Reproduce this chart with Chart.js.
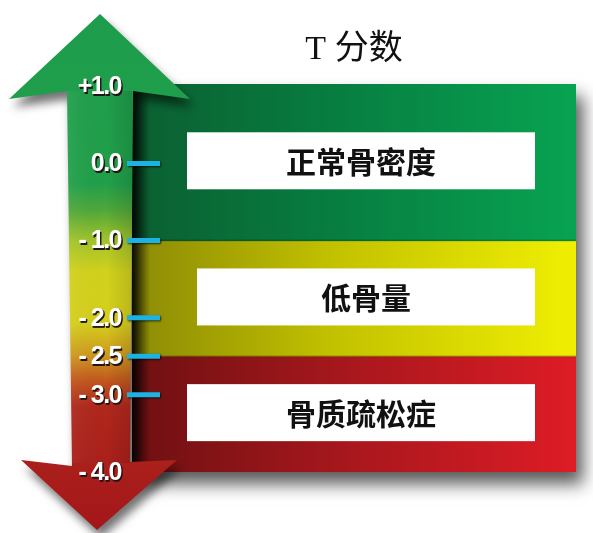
<!DOCTYPE html>
<html>
<head>
<meta charset="utf-8">
<script src="https://cdn.jsdelivr.net/npm/chart.js@4.4.1/dist/chart.umd.min.js"></script>
<style>
  html, body { margin: 0; padding: 0; background: #fff; }
  #wrap { width: 593px; height: 533px; }
</style>
</head>
<body>
<div id="wrap"><canvas id="c" width="593" height="533"></canvas></div>
<script>
const title = "T 分数";
const bandNames = ["正常骨密度", "低骨量", "骨质疏松症"];
const bandTop = [1.03, -1.0, -2.5];
const bandBottom = [-1.0, -2.5, -4.0];
const tickValues = [1.0, 0.0, -1.0, -2.0, -2.5, -3.0, -4.0];
const tickLabels = ["+1.0", "0.0", "- 1.0", "- 2.0", "- 2.5", "- 3.0", "- 4.0"];
const markValues = [0.0, -1.0, -2.0, -2.5, -3.0];

// left (shaded) -> right (bright) colours per band
const bandDark = ["#0b5f31", "#8c8a06", "#6e1012"];
const bandLight = ["#08a352", "#f0ef02", "#de1c26"];

function bandFill(i) {
  return ctx => {
    const area = ctx.chart.chartArea;
    if (!area) return bandLight[i];
    const g = ctx.chart.ctx.createLinearGradient(area.left, 0, area.right, 0);
    g.addColorStop(0, bandDark[i]);
    g.addColorStop(0.45, i === 1 ? "#c2c100" : i === 0 ? "#077d40" : "#a3171c");
    g.addColorStop(1, bandLight[i]);
    return g;
  };
}

const decor = {
  id: "decor",
  beforeDatasetsDraw(chart) {
    const { ctx, chartArea: a } = chart;
    ctx.save();
    ctx.shadowColor = "rgba(0,0,0,0.65)";
    ctx.shadowBlur = 16;
    ctx.shadowOffsetX = 7;
    ctx.shadowOffsetY = 12;
    ctx.fillStyle = "#555";
    ctx.fillRect(a.left, a.top, a.right - a.left, a.bottom - a.top);
    ctx.restore();
  },
  afterDatasetsDraw(chart) {
    const { ctx, chartArea: a } = chart;
    const y = chart.scales.y;

    // band separator lines
    ctx.save();
    ctx.strokeStyle = "rgba(0,0,0,0.18)";
    ctx.lineWidth = 2;
    [-1.0, -2.5].forEach(v => {
      const py = y.getPixelForValue(v);
      ctx.beginPath(); ctx.moveTo(a.left, py); ctx.lineTo(a.right, py); ctx.stroke();
    });
    ctx.restore();

    // shadow of arrow shaft on the panel
    const sg = ctx.createLinearGradient(a.left, 0, a.left + 18, 0);
    sg.addColorStop(0, "rgba(0,0,0,0.85)");
    sg.addColorStop(1, "rgba(0,0,0,0)");
    ctx.fillStyle = sg;
    ctx.fillRect(a.left, a.top, 18, a.bottom - a.top);

    // white boxes with band names
    bandNames.forEach((name, i) => {
      const t = y.getPixelForValue(bandTop[i]);
      const b = y.getPixelForValue(bandBottom[i]);
      const mid = (t + b) / 2 - 2;
      const x0 = a.left + (i === 1 ? 65 : 55);
      const x1 = a.left + 403;
      ctx.fillStyle = "#fff";
      ctx.fillRect(x0, mid - 28, x1 - x0, 57);
      ctx.fillStyle = "#111";
      ctx.font = "bold 30px 'Noto Sans CJK SC'";
      ctx.textAlign = "center";
      ctx.textBaseline = "middle";
      ctx.fillText(name, (x0 + x1) / 2, mid + 1);
    });

    // the double arrow
    const R = a.left, L = a.left - 65;
    const pts = [
      [100, 14], [190, 99], [R + 1, 91], [R - 2, 462], [177, 460], [97, 530],
      [21, 460], [L + 5, 466], [L, 91], [9, 99]
    ];
    ctx.save();
    ctx.shadowColor = "rgba(0,0,0,0.55)";
    ctx.shadowBlur = 10;
    ctx.shadowOffsetX = 4;
    ctx.shadowOffsetY = 8;
    const vg = ctx.createLinearGradient(0, 14, 0, 530);
    vg.addColorStop(0.0, "#1d9d4c");
    vg.addColorStop(0.33, "#21a04a");
    vg.addColorStop(0.38, "#4fa83a");
    vg.addColorStop(0.44, "#a4c42a");
    vg.addColorStop(0.50, "#d2d21c");
    vg.addColorStop(0.60, "#d6cf1c");
    vg.addColorStop(0.66, "#cf9a1e");
    vg.addColorStop(0.71, "#c2581e");
    vg.addColorStop(0.76, "#b0281c");
    vg.addColorStop(1.0, "#a3161a");
    ctx.fillStyle = vg;
    ctx.beginPath();
    pts.forEach((p, k) => k ? ctx.lineTo(p[0], p[1]) : ctx.moveTo(p[0], p[1]));
    ctx.closePath();
    ctx.fill();
    ctx.restore();

    // soft horizontal shading on the shaft
    const hg = ctx.createLinearGradient(L, 0, R, 0);
    hg.addColorStop(0, "rgba(255,255,255,0.06)");
    hg.addColorStop(0.6, "rgba(0,0,0,0)");
    hg.addColorStop(1, "rgba(0,0,0,0.12)");
    ctx.fillStyle = hg;
    ctx.fillRect(L, 91, R - L, 372);

    // blue tick marks
    ctx.save();
    ctx.shadowColor = "rgba(0,0,0,0.7)";
    ctx.shadowBlur = 2;
    ctx.shadowOffsetX = 1;
    ctx.shadowOffsetY = 1;
    ctx.strokeStyle = "#1eb2e2";
    ctx.lineWidth = 5;
    markValues.forEach(v => {
      const py = y.getPixelForValue(v);
      ctx.beginPath(); ctx.moveTo(R - 5, py); ctx.lineTo(R + 28, py); ctx.stroke();
    });
    ctx.restore();

    // tick labels
    ctx.save();
    ctx.font = "bold 25px 'Liberation Sans'";
    ctx.letterSpacing = "-1.5px";
    ctx.textAlign = "right";
    ctx.textBaseline = "middle";
    tickValues.forEach((v, k) => {
      const py = y.getPixelForValue(v) + 1;
      ctx.fillStyle = "rgba(30,20,20,0.85)";
      ctx.fillText(tickLabels[k], R - 10, py + 2);
      ctx.fillText(tickLabels[k], R - 9.5, py + 1.5);
      ctx.fillStyle = "#fff";
      ctx.fillText(tickLabels[k], R - 11, py);
    });
    ctx.restore();

    // title
    ctx.save();
    ctx.fillStyle = "#111";
    ctx.font = "34px 'Liberation Serif', 'Noto Sans CJK SC'";
    ctx.textAlign = "center";
    ctx.textBaseline = "middle";
    ctx.fillText(title, (a.left + a.right) / 2, 50);
    ctx.restore();
  }
};

new Chart(document.getElementById("c"), {
  type: "bar",
  data: {
    labels: ["T"],
    datasets: bandNames.map((n, i) => ({
      label: n,
      data: [[bandBottom[i], bandTop[i]]],
      backgroundColor: bandFill(i),
      borderWidth: 0,
      borderSkipped: false,
      grouped: false,
      barPercentage: 1,
      categoryPercentage: 1,
    })),
  },
  options: {
    responsive: false,
    animation: false,
    layout: { padding: { left: 132, right: 17, top: 84, bottom: 61 } },
    plugins: { legend: { display: false }, tooltip: { enabled: false } },
    scales: {
      x: { display: false },
      y: { display: false, min: -4.0, max: 1.03 },
    },
  },
  plugins: [decor],
});
</script>
</body>
</html>
